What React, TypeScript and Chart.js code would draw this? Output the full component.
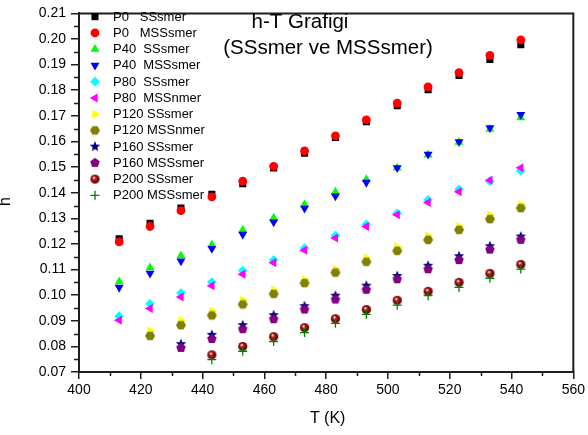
import React, { useEffect, useRef } from 'react';
import { Chart, registerables } from 'chart.js';
import { drawPoint } from 'chart.js/helpers';

Chart.register(...registerables);

const FONT = '"Liberation Sans", Arial, Helvetica, sans-serif';
const AXIS = '#1e1e1e';

// ---- data ----
const temperatures = [413, 423, 433, 443, 453, 463, 473, 483, 493, 503, 513, 523, 533, 543];
const p0SS = [0.1220, 0.1281, 0.1340, 0.1394, 0.1435, 0.1497, 0.1554, 0.1616, 0.1677, 0.1740, 0.1802, 0.1858, 0.1920, 0.1978];
const p0MSS = [0.1208, 0.1268, 0.1330, 0.1384, 0.1445, 0.1503, 0.1563, 0.1622, 0.1684, 0.1750, 0.1813, 0.1869, 0.1936, 0.1997];
const p40SS = [0.1053, 0.1107, 0.1154, 0.1197, 0.1255, 0.1301, 0.1354, 0.1403, 0.1452, 0.1497, 0.1548, 0.1597, 0.1648, 0.1693];
const p40MSS = [0.1030, 0.1085, 0.1133, 0.1182, 0.1237, 0.1285, 0.1339, 0.1387, 0.1440, 0.1497, 0.1550, 0.1599, 0.1653, 0.1705];
const p80SS = [0.0918, 0.0966, 0.1008, 0.1051, 0.1096, 0.1137, 0.1184, 0.1233, 0.1277, 0.1320, 0.1372, 0.1413, 0.1445, 0.1486];
const p80MSS = [0.0902, 0.0948, 0.0993, 0.1037, 0.1082, 0.1127, 0.1175, 0.1223, 0.1268, 0.1314, 0.1362, 0.1404, 0.1449, 0.1497];
const p120SS = [null, 0.0861, 0.0902, 0.0938, 0.0980, 0.1021, 0.1060, 0.1102, 0.1146, 0.1188, 0.1231, 0.1269, 0.1313, 0.1353];
const p120MSS = [null, 0.0841, 0.0883, 0.0921, 0.0964, 0.1005, 0.1047, 0.1088, 0.1130, 0.1173, 0.1216, 0.1255, 0.1297, 0.1340];
const p160SS = [null, null, 0.0809, 0.0845, 0.0883, 0.0922, 0.0957, 0.0998, 0.1037, 0.1075, 0.1115, 0.1152, 0.1191, 0.1229];
const p160MSS = [null, null, 0.0794, 0.0829, 0.0867, 0.0906, 0.0944, 0.0983, 0.1021, 0.1062, 0.1101, 0.1137, 0.1178, 0.1216];
const p200SS = [null, null, null, 0.0767, 0.0800, 0.0838, 0.0873, 0.0908, 0.0944, 0.0980, 0.1015, 0.1050, 0.1085, 0.1120];
const p200MSS = [null, null, null, 0.0748, 0.0781, 0.0819, 0.0854, 0.0890, 0.0925, 0.0961, 0.0998, 0.1030, 0.1066, 0.1102];

const seriesLabels = [
  'P0   SSsmer', 'P0   MSSsmer', 'P40  SSsmer', 'P40  MSSsmer', 'P80  SSsmer', 'P80  MSSnmer',
  'P120 SSsmer', 'P120 MSSnmer', 'P160 SSsmer', 'P160 MSSsmer', 'P200 SSsmer', 'P200 MSSsmer',
];
const seriesValues = [p0SS, p0MSS, p40SS, p40MSS, p80SS, p80MSS, p120SS, p120MSS, p160SS, p160MSS, p200SS, p200MSS];

const titleLine1 = 'h-T Grafigi';
const titleLine2 = '(SSsmer ve MSSsmer)';
const xTitle = 'T (K)';
const yTitle = 'h';

// ---- marker images ----
function polyCanvas(color: string, n: number, rOuter: number, rInner: number | null, startDeg: number) {
  const s = 12;
  const c = document.createElement('canvas');
  c.width = s; c.height = s;
  const g = c.getContext('2d')!;
  g.fillStyle = color;
  g.beginPath();
  const pts = rInner == null ? n : n * 2;
  for (let i = 0; i < pts; i++) {
    const r = rInner == null ? rOuter : (i % 2 === 0 ? rOuter : rInner);
    const a = (startDeg * Math.PI) / 180 + (i * 2 * Math.PI) / pts;
    const x = s / 2 + r * Math.cos(a);
    const y = s / 2 + r * Math.sin(a);
    if (i === 0) g.moveTo(x, y); else g.lineTo(x, y);
  }
  g.closePath();
  g.fill();
  return c;
}
function ballCanvas() {
  const s = 11;
  const c = document.createElement('canvas');
  c.width = s; c.height = s;
  const g = c.getContext('2d')!;
  const grad = g.createRadialGradient(s / 2 - 1.2, s / 2 - 1.5, 0.3, s / 2, s / 2, 4.8);
  grad.addColorStop(0, '#ffffff');
  grad.addColorStop(0.3, '#b02020');
  grad.addColorStop(0.75, '#800000');
  grad.addColorStop(1, '#4a0000');
  g.fillStyle = grad;
  g.beginPath();
  g.arc(s / 2, s / 2, 4.6, 0, Math.PI * 2);
  g.fill();
  return c;
}

type Style = { color: string; style: any; rot?: number; r: number; bw?: number };

function makeStyles(): Style[] {
  return [
    { color: '#000000', style: 'rect', r: 5 },
    { color: '#ff0000', style: 'circle', r: 4.4 },
    { color: '#00ff00', style: 'triangle', r: 5.2 },
    { color: '#0000ff', style: 'triangle', rot: 180, r: 5.2 },
    { color: '#00ffff', style: 'rectRot', r: 4.8 },
    { color: '#ff00ff', style: 'triangle', rot: -90, r: 5.2 },
    { color: '#ffff00', style: 'triangle', rot: 90, r: 5.2 },
    { color: '#808000', style: polyCanvas('#808000', 6, 5, null, 0), r: 5 },
    { color: '#000080', style: polyCanvas('#000080', 5, 5.5, 2.4, -90), r: 5 },
    { color: '#800080', style: polyCanvas('#800080', 5, 5, null, -90), r: 5 },
    { color: '#800000', style: ballCanvas(), r: 5 },
    { color: '#008000', style: 'cross', r: 4.5, bw: 1.3 },
  ];
}

const overlayPlugin = {
  id: 'overlay',
  afterDraw(chart: any) {
    const { ctx, chartArea: ca } = chart;
    const xs = chart.scales.x;
    const ys = chart.scales.y;
    ctx.save();
    // frame top & right
    ctx.strokeStyle = AXIS;
    ctx.lineWidth = 2;
    ctx.beginPath();
    ctx.moveTo(ca.left - 1, ca.top);
    ctx.lineTo(ca.right, ca.top);
    ctx.lineTo(ca.right, ca.bottom);
    ctx.stroke();
    // minor ticks (midpoints of major ticks)
    ctx.lineWidth = 1.5;
    ctx.beginPath();
    const xt = xs.ticks.map((t: any) => t.value);
    for (let i = 0; i < xt.length - 1; i++) {
      const px = Math.round(xs.getPixelForValue((xt[i] + xt[i + 1]) / 2)) + 0.5;
      ctx.moveTo(px, ca.bottom);
      ctx.lineTo(px, ca.bottom + 4);
    }
    const yt = ys.ticks.map((t: any) => t.value);
    for (let i = 0; i < yt.length - 1; i++) {
      const py = Math.round(ys.getPixelForValue((yt[i] + yt[i + 1]) / 2)) + 0.5;
      ctx.moveTo(ca.left, py);
      ctx.lineTo(ca.left - 5, py);
    }
    ctx.stroke();

    // legend
    chart.data.datasets.forEach((ds: any, i: number) => {
      const y = 16.7 + i * 16.24;
      ctx.fillStyle = ds.pointBackgroundColor;
      ctx.strokeStyle = ds.pointBorderColor;
      ctx.lineWidth = ds.pointBorderWidth;
      drawPoint(ctx, {
        pointStyle: ds.pointStyle,
        rotation: ds.pointRotation || 0,
        radius: ds.pointRadius,
        borderWidth: ds.pointBorderWidth,
      }, 95, y);
      ctx.fillStyle = '#000';
      ctx.font = `13px ${FONT}`;
      ctx.textBaseline = 'middle';
      ctx.textAlign = 'left';
      ctx.fillText(ds.label, 113, y + 0.5);
    });

    // chart titles
    ctx.fillStyle = '#000';
    ctx.font = `20.5px ${FONT}`;
    ctx.textAlign = 'center';
    ctx.textBaseline = 'alphabetic';
    ctx.fillText(titleLine1, 300, 27.5);
    ctx.fillText(titleLine2, 328, 53.5);

    // axis titles
    ctx.font = `16px ${FONT}`;
    ctx.textBaseline = 'middle';
    ctx.fillText(xTitle, (ca.left + ca.right) / 2 + 1.5, 418.5);
    ctx.save();
    ctx.translate(6, 201.5);
    ctx.rotate(-Math.PI / 2);
    ctx.fillText(yTitle, 0, 0);
    ctx.restore();
    ctx.restore();
  },
};

export default function App() {
  const ref = useRef<HTMLCanvasElement>(null);
  useEffect(() => {
    const styles = makeStyles();
    const n = seriesLabels.length;
    const datasets = seriesLabels.map((label, i) => {
      const st = styles[i];
      const data = temperatures
        .map((t, k) => ({ x: t, y: seriesValues[i][k] }))
        .filter((p) => p.y !== null);
      const isCross = st.style === 'cross';
      return {
        label,
        data,
        showLine: false,
        order: n - 1 - i,
        pointStyle: st.style,
        pointRotation: st.rot || 0,
        pointRadius: st.r,
        pointHoverRadius: st.r,
        pointBackgroundColor: st.color,
        pointBorderColor: st.color,
        pointBorderWidth: isCross ? st.bw : 0,
      };
    });
    const chart = new Chart(ref.current!, {
      type: 'scatter',
      data: { datasets },
      options: {
        animation: false,
        responsive: false,
        layout: { padding: { top: 8, right: 14, left: 0, bottom: 0 } },
        plugins: { legend: { display: false }, tooltip: { enabled: false }, title: { display: false } },
        scales: {
          x: {
            type: 'linear',
            min: 400,
            max: 560,
            afterFit: (s: any) => { s.height = 63; },
            border: { display: true, color: AXIS, width: 2 },
            grid: { display: true, drawOnChartArea: false, drawTicks: true, tickLength: 7, color: AXIS, lineWidth: 1.5 },
            ticks: { stepSize: 20, color: '#000', font: { family: FONT, size: 14 }, padding: 3, maxRotation: 0 },
          },
          y: {
            type: 'linear',
            min: 0.07,
            max: 0.21,
            afterFit: (s: any) => { s.width = 79; },
            border: { display: true, color: AXIS, width: 2 },
            grid: { display: true, drawOnChartArea: false, drawTicks: true, tickLength: 8, color: AXIS, lineWidth: 1.5 },
            ticks: {
              stepSize: 0.01,
              color: '#000',
              font: { family: FONT, size: 14 },
              padding: 5,
              callback: (v: any) => Number(v).toFixed(2),
            },
          },
        },
      },
      plugins: [overlayPlugin],
    } as any);
    return () => chart.destroy();
  }, []);
  return (
    <div style={{ position: 'absolute', left: 0, top: 0, width: 588, height: 435, background: '#fff' }}>
      <canvas ref={ref} width={588} height={435} style={{ display: 'block' }} />
    </div>
  );
}
